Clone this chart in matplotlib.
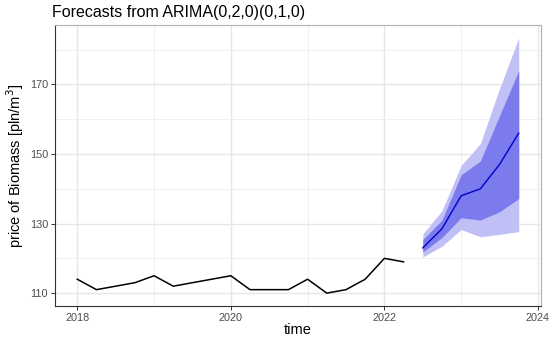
import numpy as np
import matplotlib
matplotlib.use("Agg")
import matplotlib.pyplot as plt

plt.rcParams['font.family'] = ['Liberation Sans', 'DejaVu Sans']

# observed quarterly series
hist_time = [2018.0, 2018.25, 2018.5, 2018.75, 2019.0, 2019.25, 2019.5, 2019.75,
             2020.0, 2020.25, 2020.5, 2020.75, 2021.0, 2021.25, 2021.5, 2021.75,
             2022.0, 2022.25]
hist_price = [114, 111, 112, 113, 115, 112, 113, 114,
              115, 111, 111, 111, 114, 110, 111, 114,
              120, 119]

# forecast
fc_time = [2022.5, 2022.75, 2023.0, 2023.25, 2023.5, 2023.75]
fc_mean = [123, 128.5, 138, 140, 147, 156]
lo80 = [121.8, 126, 131.7, 131, 133.4, 137.2]
hi80 = [125.4, 131, 144, 148, 161, 174]
lo95 = [120.4, 123.5, 128.3, 126.2, 126.9, 127.7]
hi95 = [127, 133.7, 146.7, 153, 168.8, 183.4]

fig = plt.figure(figsize=(5.5, 3.41), dpi=100)
ax = fig.add_axes([55 / 550, 35 / 341, 486 / 550, 281 / 341])

ax.fill_between(fc_time, lo95, hi95, color='#c0c0f7', lw=0, zorder=2)
ax.fill_between(fc_time, lo80, hi80, color='#7b7bee', lw=0, zorder=3)
ax.plot(fc_time, fc_mean, color='#0000cc', lw=1.0, zorder=4)
ax.plot(hist_time, hist_price, color='black', lw=1.1, zorder=4)

ax.set_xlim(2017.71, 2024.04)
ax.set_ylim(106.3, 187.1)
ax.set_xticks([2018, 2020, 2022, 2024])
ax.set_xticks([2019, 2021, 2023], minor=True)
ax.set_yticks([110, 130, 150, 170])
ax.set_yticks([120, 140, 160, 180], minor=True)

ax.grid(True, which='major', color='#e6e6e6', lw=1.0, zorder=0)
ax.grid(True, which='minor', color='#efefef', lw=0.7, zorder=0)
ax.set_axisbelow(True)

for s in ax.spines.values():
    s.set_color('#b0b0b0')
    s.set_linewidth(0.8)
ax.spines['left'].set_color('#333333')
ax.spines['bottom'].set_color('#333333')

ax.tick_params(which='major', length=3, width=0.7, color='#333333',
               labelsize=7.8, labelcolor='#4d4d4d', pad=2)
ax.tick_params(which='minor', length=0)

ax.set_xlabel('time', fontsize=10.5, labelpad=0)
ax.set_ylabel('price of Biomass [pln/m$^3$]', fontsize=10.5, labelpad=3)
fig.text(52 / 550, 1 - 13 / 341, 'Forecasts from ARIMA(0,2,0)(0,1,0)',
         fontsize=11.5, va='center', ha='left')

fig.savefig('out.png', dpi=100)
